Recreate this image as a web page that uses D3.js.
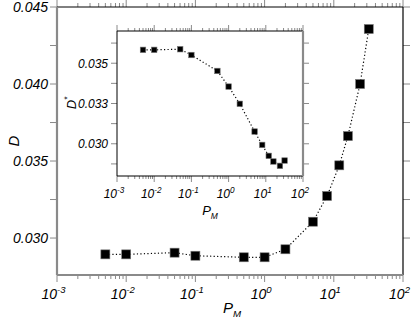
<!DOCTYPE html>
<html>
<head>
<meta charset="utf-8">
<script src="https://cdnjs.cloudflare.com/ajax/libs/d3/7.8.5/d3.min.js"></script>
<style>
  body { margin: 0; background: #fff; }
  svg { display: block; font-family: "Liberation Sans", Arial, sans-serif; font-style: italic; }
</style>
</head>
<body>
<svg id="chart" width="415" height="320"></svg>
<script>
// mixing probability values (same for both panels)
const pm = [0.005, 0.01, 0.05, 0.1, 0.5, 1, 2, 5, 8, 12, 16, 24, 32];
// main panel: D
const dMain = [0.02894, 0.02894, 0.02905, 0.02885, 0.02875, 0.02875, 0.02927,
  0.03106, 0.03273, 0.03472, 0.03662, 0.0400, 0.04357];
// inset: D*
const dInset = [0.03583, 0.03583, 0.03587, 0.03551, 0.03452, 0.03355, 0.03248,
  0.03076, 0.02993, 0.02925, 0.0289, 0.02863, 0.02896];
const xDecades = [-3, -2, -1, 0, 1, 2];
const mainYTicks = [0.030, 0.035, 0.040, 0.045];
const insetYTicks = [0.030, 0.0325, 0.035];

const svg = d3.select('#chart');
const GREY = '#8a8a8a';

function panel(opt) {
  const x = d3.scaleLog().domain([1e-3, 1e2]).range([opt.left, opt.right]);
  const y = d3.scaleLinear().domain(opt.ydom).range([opt.bottom, opt.top]);
  const g = svg.append('g');
  const minor = x.ticks();
  const isMajor = v => Math.abs(Math.log10(v) - Math.round(Math.log10(v))) < 1e-6;

  // ticks on top and bottom
  [[opt.bottom, 1], [opt.top, -1]].forEach(([yy, dir]) => {
    g.selectAll(null).data(minor).join('line')
      .attr('x1', d => x(d)).attr('x2', d => x(d))
      .attr('y1', yy).attr('y2', d => yy + dir * (isMajor(d) ? opt.tMaj : opt.tMin))
      .attr('stroke', GREY).attr('stroke-width', 1);
  });
  // y ticks left and right
  const yMinor = d3.range(opt.ydom[0], opt.ydom[1] + 1e-9, opt.yStep / 2)
    .map(v => Math.round((Math.ceil(v / (opt.yStep / 2) - 1e-6) * opt.yStep / 2) * 1e6) / 1e6)
    .filter(v => v >= opt.ydom[0] && v <= opt.ydom[1]);
  [[opt.left, -1], [opt.right, 1]].forEach(([xx, dir]) => {
    g.selectAll(null).data(yMinor).join('line')
      .attr('x1', xx).attr('x2', xx + dir * opt.tMaj)
      .attr('y1', d => y(d)).attr('y2', d => y(d))
      .attr('stroke', GREY).attr('stroke-width', 1);
  });

  // frame
  const lines = opt.frame;
  lines.forEach(s => {
    let a;
    if (s.side === 'left') a = [opt.left, opt.top, opt.left, opt.bottom];
    if (s.side === 'right') a = [opt.right, opt.top, opt.right, opt.bottom];
    if (s.side === 'top') a = [opt.left, opt.top, opt.right, opt.top];
    if (s.side === 'bottom') a = [opt.left, opt.bottom, opt.right, opt.bottom];
    g.append('line').attr('x1', a[0]).attr('y1', a[1]).attr('x2', a[2]).attr('y2', a[3])
      .attr('stroke', s.color).attr('stroke-width', s.w);
  });

  // x labels
  const xl = g.selectAll(null).data(xDecades).join('text')
    .attr('x', d => x(Math.pow(10, d)) - opt.fs * 0.25)
    .attr('y', opt.bottom + opt.xlOff)
    .attr('text-anchor', 'middle')
    .attr('font-size', opt.fs);
  xl.append('tspan').text('10');
  xl.append('tspan').attr('dy', -opt.fs * 0.4).attr('font-size', opt.fs * 0.68)
    .text(d => d < 0 ? '-' + (-d) : String(d));

  // y labels
  g.selectAll(null).data(opt.yTicks).join('text')
    .attr('x', opt.left - opt.ylOff).attr('y', d => y(d) + opt.fs * 0.36)
    .attr('text-anchor', 'end').attr('font-size', opt.fs)
    .text(d => d.toFixed(3));

  // axis titles
  const xt = g.append('text').attr('x', opt.xtX).attr('y', opt.xtY)
    .attr('text-anchor', 'middle').attr('font-size', opt.fs + 1);
  xt.append('tspan').text('P');
  xt.append('tspan').attr('dy', 4).attr('font-size', (opt.fs + 1) * 0.65).text('M');

  const yt = g.append('text')
    .attr('transform', `translate(${opt.ytX},${opt.ytY}) rotate(-90)`)
    .attr('text-anchor', 'middle').attr('font-size', opt.fs + 1);
  yt.append('tspan').text('D');
  if (opt.star) yt.append('tspan').attr('dy', -6).attr('font-size', (opt.fs + 1) * 0.65).text('*');

  // dotted line and markers
  const line = d3.line().x((d, i) => x(pm[i])).y(d => y(d));
  g.append('path').datum(opt.data).attr('d', line)
    .attr('fill', 'none').attr('stroke', '#000').attr('stroke-width', 1.2)
    .attr('stroke-dasharray', '1.2,2.3');
  g.selectAll(null).data(opt.data).join('rect')
    .attr('x', (d, i) => x(pm[i]) - opt.ms / 2)
    .attr('y', d => y(d) - opt.ms / 2)
    .attr('width', opt.ms).attr('height', opt.ms)
    .attr('fill', '#000').attr('stroke', '#777').attr('stroke-width', 0.6);
}

panel({
  left: 57, right: 403, top: 7, bottom: 275,
  ydom: [0.0276, 0.045], yStep: 0.005, yTicks: mainYTicks,
  tMaj: 7, tMin: 4, fs: 14, xlOff: 24, ylOff: 9,
  xtX: 232, xtY: 313, ytX: 19, ytY: 141, star: false,
  data: dMain, ms: 9,
  frame: [
    { side: 'top', color: '#000', w: 1 },
    { side: 'right', color: '#000', w: 1.2 },
    { side: 'left', color: GREY, w: 2.2 },
    { side: 'bottom', color: GREY, w: 2.2 }
  ]
});

panel({
  left: 117, right: 303, top: 31, bottom: 176,
  ydom: [0.028, 0.037], yStep: 0.0025, yTicks: insetYTicks,
  tMaj: 6, tMin: 3, fs: 12, xlOff: 22, ylOff: 9,
  xtX: 210, xtY: 215, ytX: 76, ytY: 103, star: true,
  data: dInset, ms: 5.5,
  frame: [
    { side: 'top', color: '#000', w: 1 },
    { side: 'left', color: '#000', w: 1 },
    { side: 'bottom', color: '#000', w: 1.2 },
    { side: 'right', color: GREY, w: 2.2 }
  ]
});
</script>
</body>
</html>
